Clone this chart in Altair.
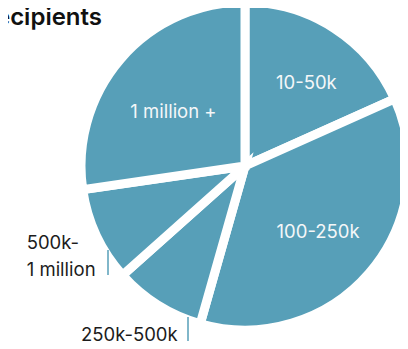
import altair as alt
import pandas as pd

# Data
categories = ["10-50k", "100-250k", "250k-500k", "500k-1 million", "1 million +"]
labels = ["10-50k", "100-250k", "250k-500k", "500k-\n1 million", "1 million +"]
shares = [18.3, 36.1, 9.0, 9.3, 27.3]
title_text = "Recipients"

TEAL = "#579fb8"
FONT = "Inter"
CX, CY = 237, 158

df = pd.DataFrame({
    "category": categories,
    "label": labels,
    "share": shares,
    "order": list(range(len(categories))),
})

base = alt.Chart(df).encode(
    theta=alt.Theta("share:Q", stack=True),
    order=alt.Order("order:Q", sort="ascending"),
    x=alt.value(CX),
    y=alt.value(CY),
)

pie = base.mark_arc(outerRadius=164, color=TEAL, stroke="white", strokeWidth=9)


def label_layer(cat, r, dx=0, dy=0, align="center", color="#f4f7f8"):
    return base.mark_text(
        radius=r, dx=dx, dy=dy, align=align, baseline="middle",
        font=FONT, fontSize=18.5, color=color, lineBreak="\n", lineHeight=27,
    ).encode(
        text=alt.condition(alt.datum.category == cat, "label:N", alt.value(""))
    )


l1 = label_layer("10-50k", 100, dx=7, dy=1)
l2 = label_layer("100-250k", 98, dx=-1, dy=2)
l3 = label_layer("1 million +", 92, dx=-2, dy=6)
l4 = label_layer("250k-500k", 203, dx=-8, dy=-3, color="#1c1c1c")
l5 = label_layer("500k-1 million", 210, dx=-28, dy=-12, align="left", color="#1c1c1c")

title = alt.Chart(pd.DataFrame({"t": [title_text]})).mark_text(
    align="right", baseline="alphabetic", font=FONT, fontSize=24, fontWeight=600,
    color="#111111",
).encode(text="t:N", x=alt.value(94), y=alt.value(17))

one = alt.Data(values=[{}])
lead1 = alt.Chart(one).mark_rule(color=TEAL, strokeWidth=1.5).encode(
    x=alt.value(100), y=alt.value(242), y2=alt.value(267)
)
lead2 = alt.Chart(one).mark_rule(color=TEAL, strokeWidth=1.5).encode(
    x=alt.value(180), y=alt.value(309), y2=alt.value(334)
)

chart = alt.layer(pie, l1, l2, l3, l4, l5, lead1, lead2, title).properties(
    width=392, height=333, autosize="none", padding=0
).configure_view(stroke=None)

chart.save("out.html", embed_options={"renderer": "svg", "actions": False})
